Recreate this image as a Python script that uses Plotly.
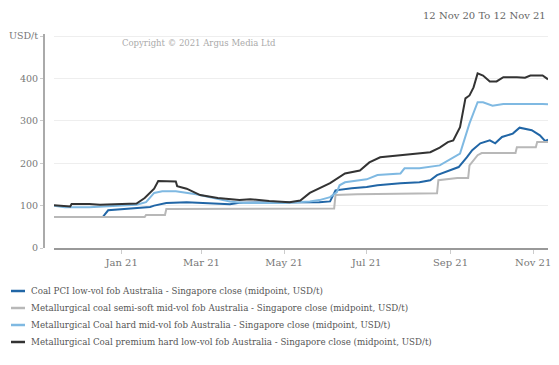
import plotly.graph_objects as go

# ---- data ----
pci_dates = ["2020-11-12", "2020-12-18", "2020-12-22", "2021-01-14", "2021-01-22", "2021-01-25",
             "2021-02-03", "2021-02-18", "2021-03-07", "2021-03-22", "2021-03-29", "2021-05-27",
             "2021-06-04", "2021-06-08", "2021-06-20", "2021-07-01", "2021-07-09", "2021-07-26",
             "2021-08-09", "2021-08-17", "2021-08-22", "2021-09-01", "2021-09-07", "2021-09-13",
             "2021-09-17", "2021-09-23", "2021-09-30", "2021-10-04", "2021-10-09", "2021-10-17",
             "2021-10-22", "2021-10-31", "2021-11-06", "2021-11-10", "2021-11-12"]
pci_values = [73, 73, 89, 94, 97, 100,
              106, 108, 106, 103, 107, 108,
              110, 136, 141, 144, 148, 153,
              155, 160, 172, 184, 191, 214,
              231, 247, 254, 247, 262, 270,
              284, 278, 266, 252, 256]

semisoft_dates = ["2020-11-12", "2021-01-18", "2021-01-19", "2021-02-02", "2021-02-03", "2021-06-07",
                  "2021-06-08", "2021-06-24", "2021-08-22", "2021-08-23", "2021-09-06", "2021-09-14",
                  "2021-09-15", "2021-09-21", "2021-09-24", "2021-10-19", "2021-10-20", "2021-11-03",
                  "2021-11-04", "2021-11-12"]
semisoft_values = [73, 73, 78, 78, 92, 93,
                   125, 127, 129, 160, 165, 165,
                   195, 219, 224, 224, 238, 238,
                   250, 250]

hard_dates = ["2020-11-12", "2020-11-20", "2020-12-08", "2020-12-31", "2021-01-12", "2021-01-19",
              "2021-01-25", "2021-01-31", "2021-02-10", "2021-02-25", "2021-03-13", "2021-03-22",
              "2021-04-01", "2021-05-01", "2021-05-20", "2021-05-27", "2021-06-04", "2021-06-09",
              "2021-06-11", "2021-06-15", "2021-07-01", "2021-07-09", "2021-07-26", "2021-07-29",
              "2021-08-09", "2021-08-24", "2021-09-08", "2021-09-13", "2021-09-15", "2021-09-21",
              "2021-09-25", "2021-10-02", "2021-10-10", "2021-11-08", "2021-11-12"]
hard_values = [100, 96, 96, 99, 102, 108,
               130, 134, 134, 127, 115, 110,
               106, 106, 110, 113, 120, 132,
               148, 155, 162, 172, 176, 188,
               188, 195, 223, 273, 294, 344,
               344, 336, 340, 340, 339]

premium_dates = ["2020-11-12", "2020-11-20", "2020-11-24", "2020-11-25", "2020-12-08", "2020-12-16",
                 "2020-12-31", "2021-01-12", "2021-01-18", "2021-01-25", "2021-01-28", "2021-02-03",
                 "2021-02-10", "2021-02-11", "2021-02-18", "2021-02-28", "2021-03-13", "2021-03-29",
                 "2021-04-06", "2021-04-20", "2021-04-30", "2021-05-05", "2021-05-13", "2021-05-20",
                 "2021-06-04", "2021-06-15", "2021-06-26", "2021-07-03", "2021-07-11", "2021-07-26",
                 "2021-08-07", "2021-08-17", "2021-08-24", "2021-08-30", "2021-09-03", "2021-09-08",
                 "2021-09-12", "2021-09-15", "2021-09-18", "2021-09-21", "2021-09-25", "2021-09-30",
                 "2021-10-05", "2021-10-10", "2021-10-20", "2021-10-26", "2021-10-30", "2021-11-08",
                 "2021-11-12"]
premium_values = [101, 100, 98, 104, 104, 102,
                  104, 105, 118, 140, 158, 158,
                  157, 146, 140, 125, 118, 113,
                  115, 111, 109, 108, 112, 130,
                  153, 176, 183, 202, 214, 219,
                  223, 226, 237, 250, 254, 285,
                  353, 360, 379, 412, 407, 393,
                  393, 403, 403, 402, 407, 407,
                  398]

series_names = [
    "Coal PCI low-vol fob Australia - Singapore close (midpoint, USD/t)",
    "Metallurgical coal semi-soft mid-vol fob Australia - Singapore close (midpoint, USD/t)",
    "Metallurgical Coal hard mid-vol fob Australia - Singapore close (midpoint, USD/t)",
    "Metallurgical Coal premium hard low-vol fob Australia - Singapore close (midpoint, USD/t)",
]
series_colors = ["#2166a6", "#b8b8b8", "#7fb9e2", "#333333"]

y_tickvals = [0, 100, 200, 300, 400, 500]
y_ticktext = ["0", "100", "200", "300", "400", "USD/t"]

FONT = "DejaVu Serif"

fig = go.Figure()
for name, xs, ys, col in zip(series_names,
                             [pci_dates, semisoft_dates, hard_dates, premium_dates],
                             [pci_values, semisoft_values, hard_values, premium_values],
                             series_colors):
    fig.add_trace(go.Scatter(x=xs, y=ys, mode="lines", name=name,
                             line=dict(color=col, width=2), showlegend=False))

# the page body adds an 8px margin around the figure
OFF = 8
W, H = 559 - OFF, 365 - OFF
ml, mr, mt, mb = 44 - OFF, 11, 34 - OFF, 117
pw = W - ml - mr
ph = H - mt - mb


def px_x(x):
    # x in screenshot pixels -> paper coordinate
    return (x - OFF - ml) / pw


def px_y(y):
    # y in screenshot pixels -> paper coordinate
    return (H - mb - (y - OFF)) / ph


annotations = [
    dict(text="12 Nov 20 To 12 Nov 21", xref="paper", yref="paper",
         x=1, y=px_y(15), xanchor="right", yanchor="middle",
         showarrow=False, font=dict(family=FONT, size=10, color="#666666")),
    dict(text="Copyright \u00a9 2021 Argus Media Ltd", xref="paper", yref="paper",
         x=px_x(199), y=px_y(43), xanchor="center", yanchor="middle",
         showarrow=False, font=dict(family=FONT, size=8.5, color="#aaaaaa")),
]
shapes = []
legend_y = [291, 308, 325, 342]
for name, col, ly in zip(series_names, series_colors, legend_y):
    shapes.append(dict(type="line", xref="paper", yref="paper",
                       x0=px_x(11), x1=px_x(25), y0=px_y(ly), y1=px_y(ly),
                       line=dict(color=col, width=2.5)))
    annotations.append(dict(text=name, xref="paper", yref="paper",
                            x=px_x(29), y=px_y(ly), xanchor="left", yanchor="middle",
                            showarrow=False,
                            font=dict(family=FONT, size=8.7, color="#555555")))

fig.update_layout(
    width=W, height=H,
    margin=dict(l=ml, r=mr, t=mt, b=mb, autoexpand=False),
    paper_bgcolor="white", plot_bgcolor="white",
    font=dict(family=FONT, size=10, color="#777777"),
    showlegend=False,
    xaxis=dict(domain=[10 / pw, 1], type="date",
               range=["2020-11-12", "2021-11-12"],
               tick0="2021-01-01", dtick="M2", tickformat="%b %y",
               showgrid=False, zeroline=False,
               showline=True, linecolor="#999999", linewidth=2,
               ticks="outside", ticklen=4, tickcolor="#cccccc",
               tickfont=dict(family=FONT, size=10, color="#777777")),
    yaxis=dict(range=[0, 505], anchor="free", position=0,
               tickvals=y_tickvals, ticktext=y_ticktext,
               showgrid=True, gridcolor="#eeeeee", gridwidth=1,
               zeroline=False,
               showline=True, linecolor="#aaaaaa", linewidth=2,
               ticks="outside", ticklen=3, tickcolor="#cccccc",
               tickfont=dict(family=FONT, size=9.5, color="#777777")),
    annotations=annotations,
    shapes=shapes,
)

fig.write_html("out.html")
